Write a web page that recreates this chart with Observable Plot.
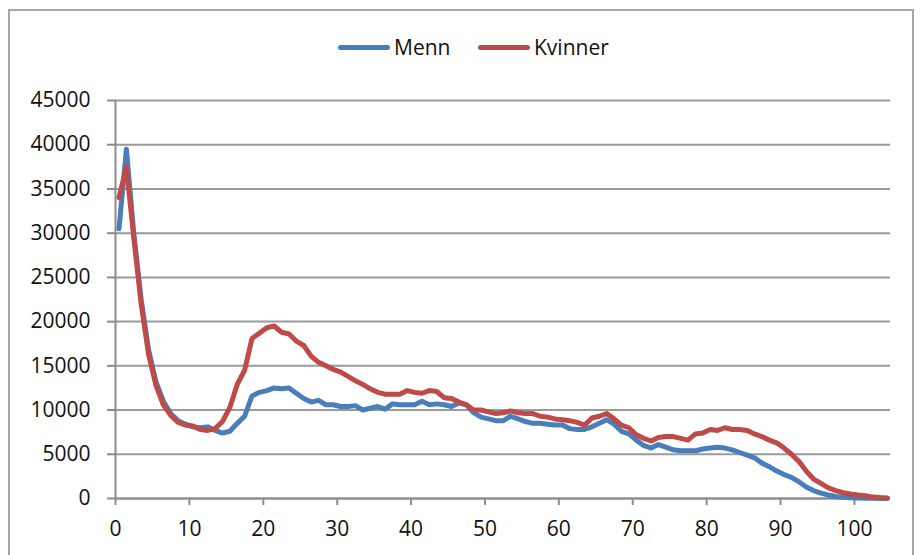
<!DOCTYPE html>
<html>
<head>
<meta charset="utf-8">
<script src="https://cdn.jsdelivr.net/npm/d3@7"></script>
<script src="https://cdn.jsdelivr.net/npm/@observablehq/plot@0.6"></script>
<style>
  body { margin: 0; background: #fff; }
  #wrap { position: relative; width: 921px; height: 555px; overflow: hidden; font-family: "Open Sans", sans-serif; }
  #frame { position: absolute; left: 8px; top: 9px; width: 906px; height: 620px; border: 2px solid #a6a6a6; box-sizing: border-box; }
  #legend { position: relative; height: 80px; }
  .item { position: absolute; top: 33px; display: flex; align-items: center; font-size: 21px; color: #111; }
  .swatch { width: 52px; height: 5px; border-radius: 3px; margin-right: 4px; }
  #chart { position: relative; }
</style>
</head>
<body>
<div id="wrap">
  <div id="frame"></div>
  <div id="legend"></div>
  <div id="chart"></div>
</div>
<script>
const seriesNames = ["Menn", "Kvinner"];
const seriesColors = ["#4a7ebb", "#be4b48"];
const ages = d3.range(0, 105);
const menn = [
  30500, 39500, 30000, 22500, 16800, 13200, 11000, 9600, 8800, 8400,
  8100, 8000, 8100, 7700, 7400, 7600, 8500, 9300, 11600, 12000,
  12200, 12500, 12400, 12500, 11900, 11300, 10900, 11100, 10600, 10600,
  10400, 10400, 10500, 10000, 10200, 10400, 10100, 10700, 10600, 10600,
  10600, 11000, 10600, 10700, 10600, 10400, 10800, 10600, 9700, 9200,
  9000, 8800, 8800, 9300, 9000, 8700, 8500, 8500, 8400, 8300,
  8300, 7900, 7800, 7800, 8100, 8500, 8900, 8400, 7600, 7300,
  6600, 6000, 5700, 6100, 5800, 5500, 5400, 5400, 5400, 5600,
  5700, 5800, 5700, 5500, 5200, 4900, 4600, 4000, 3600, 3100,
  2700, 2400, 1900, 1300, 900, 600, 400, 230, 150, 80,
  50, 30, 20, 10, 5
];
const kvinner = [
  34000, 37500, 29500, 22000, 16300, 12800, 10600, 9400, 8600, 8300,
  8200, 7800, 7700, 7900, 8700, 10300, 12900, 14500, 18100, 18700,
  19300, 19500, 18800, 18600, 17800, 17300, 16100, 15400, 15000, 14600,
  14300, 13800, 13300, 12900, 12400, 12000, 11800, 11800, 11800, 12200,
  12000, 11900, 12200, 12100, 11400, 11300, 10900, 10600, 10000, 10000,
  9800, 9600, 9700, 9900, 9700, 9600, 9600, 9300, 9200, 9000,
  8900, 8800, 8600, 8300, 9100, 9300, 9600, 9000, 8300, 8000,
  7200, 6800, 6500, 6900, 7000, 7000, 6800, 6600, 7300, 7400,
  7800, 7700, 8000, 7800, 7800, 7700, 7300, 7000, 6600, 6300,
  5700, 5000, 4200, 3100, 2200, 1700, 1200, 900, 650, 500,
  400, 320, 160, 100, 60
];
const xTicks = [0, 10, 20, 30, 40, 50, 60, 70, 80, 90, 100];
const yTicks = [0, 5000, 10000, 15000, 20000, 25000, 30000, 35000, 40000, 45000];

const rows = [];
ages.forEach((a, i) => {
  rows.push({age: a, value: menn[i], series: seriesNames[0]});
});
ages.forEach((a, i) => {
  rows.push({age: a, value: kvinner[i], series: seriesNames[1]});
});

// legend
const legend = document.getElementById("legend");
const legendLeft = [338, 478];
seriesNames.forEach((name, i) => {
  const it = document.createElement("div");
  it.className = "item";
  it.style.left = legendLeft[i] + "px";
  const sw = document.createElement("div");
  sw.className = "swatch";
  sw.style.background = seriesColors[i];
  it.appendChild(sw);
  const t = document.createElement("span");
  t.textContent = name;
  it.appendChild(t);
  legend.appendChild(it);
});

// Excel-style category axis: points sit slightly right of the tick marks
const shift = -3.5;
const axisColor = "#8c8c8c";

const chart = Plot.plot({
  width: 921,
  height: 475,
  marginTop: 20,
  marginBottom: 57,
  marginLeft: 118.5,
  marginRight: 34,
  style: {fontFamily: "Open Sans", fontSize: "21px", color: "#111", background: "transparent"},
  x: {domain: [0, 104]},
  y: {domain: [0, 45000]},
  color: {domain: seriesNames, range: seriesColors},
  marks: [
    Plot.gridY(yTicks, {stroke: "#9a9a9a", strokeOpacity: 1, strokeWidth: 2, insetLeft: shift, insetRight: -3}),
    Plot.ruleX([0], {stroke: axisColor, strokeWidth: 2, dx: shift}),
    Plot.axisY(yTicks, {tickSize: 8, tickPadding: 17, dx: shift, stroke: axisColor, strokeWidth: 2, fill: "#111", fontSize: 21, label: null, tickFormat: d => String(d)}),
    Plot.axisX(xTicks, {tickSize: 7, tickPadding: 16, dx: shift, stroke: axisColor, strokeWidth: 2, fill: "#111", fontSize: 21, label: null, tickFormat: d => String(d)}),
    Plot.ruleY([0], {stroke: axisColor, strokeWidth: 2, insetLeft: shift, insetRight: -3}),
    Plot.line(rows, {x: "age", y: "value", z: "series", stroke: "series", strokeWidth: 5, strokeLinejoin: "round", strokeLinecap: "round"})
  ]
});
document.getElementById("chart").appendChild(chart);
</script>
</body>
</html>
